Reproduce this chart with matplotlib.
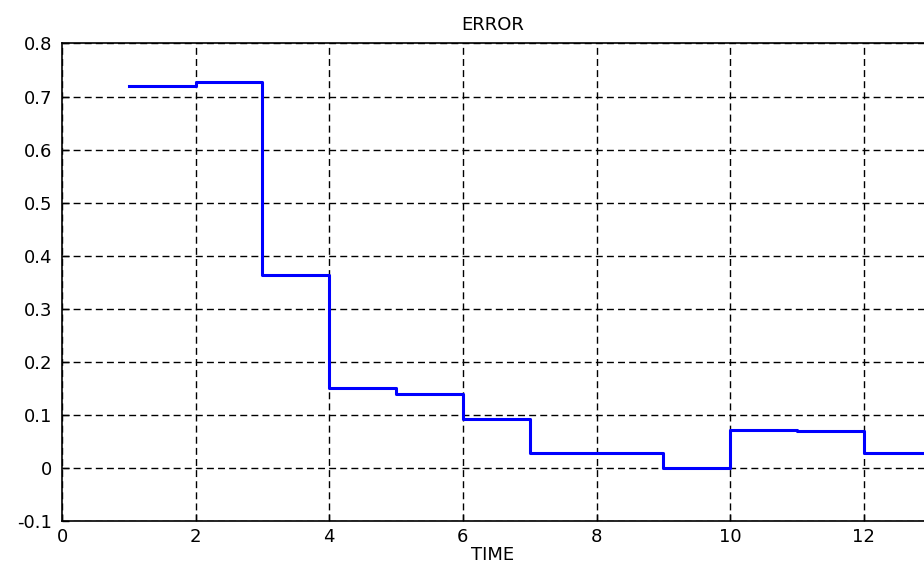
# Step plot of error over time

import numpy as np
import matplotlib
matplotlib.use('Agg')
import matplotlib.pyplot as plt

# data
time = [1, 2, 3, 4, 5, 6, 7, 8, 9, 10, 11, 12, 13, 14]
error = [0.719, 0.728, 0.364, 0.151, 0.140, 0.092, 0.028, 0.028, -0.001,
         0.072, 0.069, 0.028, 0.028, 0.028]
xticks = [0, 2, 4, 6, 8, 10, 12]
yticks = [-0.1, 0, 0.1, 0.2, 0.3, 0.4, 0.5, 0.6, 0.7, 0.8]
ylabels = ['-0.1', '0', '0.1', '0.2', '0.3', '0.4', '0.5', '0.6', '0.7', '0.8']

plt.rcParams['font.family'] = ['DejaVu Sans']

fig = plt.figure(figsize=(9.24, 5.67), dpi=100)
ax = fig.add_axes([0.0671, 0.0811, 0.9329, 0.8422])

ax.step(time, error, where='post', color='#0000ff', linewidth=2.2)

ax.set_xlim(0, 12.9)
ax.set_ylim(-0.1, 0.8)
ax.set_xticks(xticks)
ax.set_yticks(yticks)
ax.set_yticklabels(ylabels)

ax.grid(True, color='black', linewidth=1.0, linestyle=(0, (5, 3)))
ax.tick_params(direction='in', length=5, width=1, labelsize=13, colors='black')
ax.tick_params(axis='y', pad=7)
ax.tick_params(axis='x', pad=5)
ax.spines['right'].set_visible(False)
for s in ['top', 'left', 'bottom']:
    ax.spines[s].set_linewidth(1.2)

ax.set_title('ERROR', fontsize=13, pad=10)
ax.set_xlabel('TIME', fontsize=13, labelpad=0)

plt.savefig('out.png', dpi=100)
